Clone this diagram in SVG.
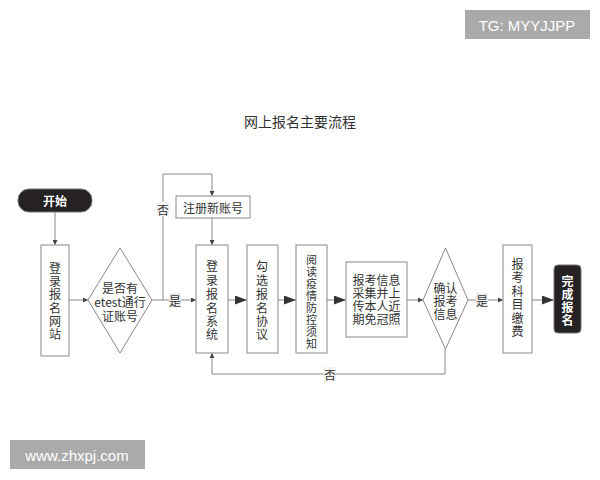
<svg xmlns="http://www.w3.org/2000/svg" width="600" height="480" viewBox="0 0 600 480">
<defs>
<marker id="sm" viewBox="0 0 10 10" refX="10" refY="5" markerWidth="5" markerHeight="5" orient="auto" markerUnits="userSpaceOnUse"><path d="M0,0 L10,5 L0,10 z" fill="#444"/></marker>
<marker id="lg" viewBox="0 0 10 10" refX="10" refY="5" markerWidth="12" markerHeight="9" orient="auto" markerUnits="userSpaceOnUse" preserveAspectRatio="none"><path d="M0,0 L10,5 L0,10 z" fill="#333"/></marker>
</defs>
<style>
text{font-family:"Noto Sans CJK SC","Liberation Sans",sans-serif;fill:#333;text-anchor:middle;dominant-baseline:central}
.box{fill:#fff;stroke:#888;stroke-width:1}
.dark{fill:#262122;stroke:#777;stroke-width:1}
.ln{fill:none;stroke:#888;stroke-width:1}
.t{font-size:12px}
.s{font-size:11px}
.w{fill:#fff;font-weight:bold;font-size:12px}
.lbl{fill:#eeeeee}
.lbw{fill:#f4f4f4}
.wm{fill:#aaaaaa}
.wmt{fill:#fff;font-family:"Liberation Sans",Arial,sans-serif;font-size:15px}
</style>
<rect width="600" height="480" fill="#fff"/>
<rect class="wm" x="465" y="10" width="125" height="29"/>
<text class="wmt" x="527" y="25">TG: MYYJJPP</text>
<rect class="wm" x="10" y="440" width="135" height="29"/>
<text class="wmt" x="77" y="455">www.zhxpj.com</text>
<text x="300" y="121" style="font-size:14px">网上报名主要流程</text>
<g id="connectors">
<line class="ln" x1="55" y1="212" x2="55" y2="245" marker-end="url(#sm)"/>
<line class="ln" x1="69" y1="300" x2="88" y2="300" marker-end="url(#sm)"/>
<line class="ln" x1="152" y1="300" x2="196" y2="300" marker-end="url(#sm)"/>
<polyline class="ln" points="163,300 163,174 212,174 212,196" marker-end="url(#sm)"/>
<line class="ln" x1="212" y1="218" x2="212" y2="245" marker-end="url(#sm)"/>
<line class="ln" x1="228" y1="300" x2="247" y2="300" marker-end="url(#lg)"/>
<line class="ln" x1="278" y1="300" x2="296" y2="300" marker-end="url(#lg)"/>
<line class="ln" x1="327" y1="300" x2="346" y2="300" marker-end="url(#lg)"/>
<line class="ln" x1="407" y1="300" x2="423" y2="300" marker-end="url(#sm)"/>
<line class="ln" x1="468" y1="300" x2="503" y2="300" marker-end="url(#sm)"/>
<line class="ln" x1="532" y1="300" x2="554" y2="300" marker-end="url(#lg)"/>
<polyline class="ln" points="445,349 445,374 212,374 212,353" marker-end="url(#sm)"/>
<rect class="lbw" x="157" y="202" width="12" height="14"/>
<text class="t" x="163" y="209">否</text>
<rect class="lbl" x="169" y="293" width="12" height="14"/>
<text class="t" x="175" y="300">是</text>
<rect class="lbl" x="476" y="293" width="12" height="14"/>
<text class="t" x="482" y="300">是</text>
<rect class="lbw" x="324" y="367" width="12" height="14"/>
<text class="t" x="330" y="374">否</text>
</g>
<g id="start">
<rect class="dark" x="18" y="189" width="74" height="23" rx="11"/>
<text class="w" x="55" y="200">开始</text>
</g>
<g id="login-site">
<rect class="box" x="41" y="245" width="28" height="111"/>
<text class="t" x="55" y="267">登</text><text class="t" x="55" y="280">录</text><text class="t" x="55" y="293">报</text><text class="t" x="55" y="307">名</text><text class="t" x="55" y="320">网</text><text class="t" x="55" y="333">站</text>
</g>
<g id="has-account">
<polygon class="box" points="120,248 152,300 120,353 88,300"/>
<text class="t" x="120" y="287">是否有</text><text class="t" x="120" y="301">etest通行</text><text class="t" x="120" y="315">证账号</text>
</g>
<g id="register">
<rect class="box" x="176" y="196" width="74" height="22"/>
<text class="t" x="213" y="207">注册新账号</text>
</g>
<g id="login-system">
<rect class="box" x="196" y="245" width="32" height="108"/>
<text class="t" x="212" y="265">登</text><text class="t" x="212" y="279">录</text><text class="t" x="212" y="293">报</text><text class="t" x="212" y="307">名</text><text class="t" x="212" y="320">系</text><text class="t" x="212" y="333">统</text>
</g>
<g id="agree">
<rect class="box" x="247" y="245" width="31" height="108"/>
<text class="t" x="262" y="265">勾</text><text class="t" x="262" y="279">选</text><text class="t" x="262" y="293">报</text><text class="t" x="262" y="307">名</text><text class="t" x="262" y="320">协</text><text class="t" x="262" y="333">议</text>
</g>
<g id="read">
<rect class="box" x="296" y="245" width="31" height="108"/>
<text class="s" x="311.5" y="259">阅</text><text class="s" x="311.5" y="271">读</text><text class="s" x="311.5" y="283">疫</text><text class="s" x="311.5" y="295">情</text><text class="s" x="311.5" y="307">防</text><text class="s" x="311.5" y="319">控</text><text class="s" x="311.5" y="331">须</text><text class="s" x="311.5" y="343">知</text>
</g>
<g id="collect">
<rect class="box" x="346" y="262" width="61" height="75"/>
<text class="t" x="376.5" y="279">报考信息</text><text class="t" x="376.5" y="292">采集并上</text><text class="t" x="376.5" y="305">传本人近</text><text class="t" x="376.5" y="318">期免冠照</text>
</g>
<g id="confirm">
<polygon class="box" points="445.5,248 468,300 445.5,349 423,300"/>
<text class="t" x="445.5" y="287">确认</text><text class="t" x="445.5" y="300">报考</text><text class="t" x="445.5" y="313">信息</text>
</g>
<g id="pay">
<rect class="box" x="503" y="245" width="29" height="108"/>
<text class="t" x="517.5" y="263">报</text><text class="t" x="517.5" y="276">考</text><text class="t" x="517.5" y="290">科</text><text class="t" x="517.5" y="303">目</text><text class="t" x="517.5" y="317">缴</text><text class="t" x="517.5" y="330">费</text>
</g>
<g id="end">
<rect class="dark" x="554" y="265" width="27" height="68" rx="4"/>
<text class="w" x="567.5" y="280">完</text><text class="w" x="567.5" y="293">成</text><text class="w" x="567.5" y="306">报</text><text class="w" x="567.5" y="319">名</text>
</g>
</svg>
